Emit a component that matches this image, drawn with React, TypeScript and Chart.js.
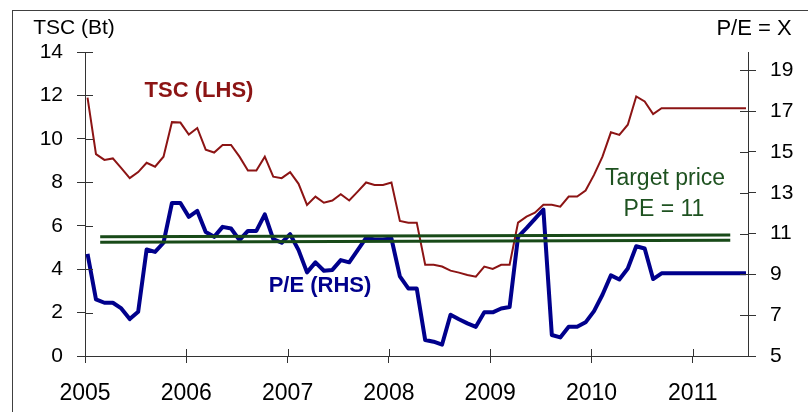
import React, { useEffect, useRef } from 'react';
import { Chart, registerables } from 'chart.js';

Chart.register(...registerables);

// ---- data ----
const START_YEAR = 2005;
const yearTicks = [2005, 2006, 2007, 2008, 2009, 2010, 2011];
const leftTicks = [0, 2, 4, 6, 8, 10, 12, 14];
const rightTicks = [5, 7, 9, 11, 13, 15, 17, 19];

// Monthly TSC share price (Bt), Jan 2005 onward (LHS)
const tscValues = [
  11.9, 9.3, 9.03, 9.1, 8.65, 8.19, 8.47, 8.9, 8.72, 9.18, 10.77, 10.75,
  10.2, 10.5, 9.5, 9.37, 9.72, 9.72, 9.18, 8.54, 8.54, 9.18, 8.26, 8.19,
  8.47, 7.93, 6.96, 7.34, 7.06, 7.16, 7.45, 7.16, 7.57, 7.99, 7.88, 7.88,
  7.99, 6.22, 6.14, 6.14, 4.2, 4.2, 4.12, 3.93, 3.84, 3.73, 3.65, 4.12,
  4.01, 4.2, 4.2, 6.14, 6.42, 6.6, 6.96, 6.96, 6.88, 7.34, 7.34, 7.62,
  8.34, 9.18, 10.3, 10.18, 10.65, 11.95, 11.72, 11.14, 11.41, 11.41, 11.41, 11.41,
  11.41, 11.41, 11.41, 11.41, 11.41, 11.41, 11.41,
];

// Monthly P/E (x), Jan 2005 onward (RHS)
const peValues = [
  10.0, 7.78, 7.61, 7.61, 7.33, 6.81, 7.17, 10.22, 10.1, 10.55, 12.5, 12.5,
  11.82, 12.11, 11.08, 10.84, 11.33, 11.25, 10.68, 11.13, 11.13, 11.94, 10.73, 10.55,
  10.97, 10.19, 9.1, 9.59, 9.18, 9.22, 9.7, 9.59, 10.19, 10.79, 10.71, 10.71,
  10.76, 8.9, 8.31, 8.31, 5.78, 5.7, 5.56, 7.02, 6.8, 6.6, 6.43, 7.14,
  7.14, 7.33, 7.4, 10.84, 11.27, 11.72, 12.18, 6.03, 5.91, 6.43, 6.43, 6.65,
  7.2, 8.0, 8.95, 8.75, 9.29, 10.38, 10.27, 8.77, 9.05, 9.05, 9.05, 9.05,
  9.05, 9.05, 9.05, 9.05, 9.05, 9.05, 9.05,
];

// Target price band (LHS, Bt) at PE = 11
const targetSpan = [2005.15, 2011.37];
const targetUpper = [5.49, 5.57];
const targetLower = [5.24, 5.33];

const X_MIN = 2005;
const X_MAX = 2011.545;

const FONT = '"Liberation Sans", Arial, sans-serif';
const AXIS_COLOR = '#333333';
const RED = '#8C1414';
const BLUE = '#00008C';
const GREEN = '#184A18';
const GREEN_TEXT = '#1E5220';

const monthX = (i: number) => START_YEAR + (i + 0.3) / 12;

const overlayPlugin = {
  id: 'overlay',
  afterDraw(chart: any) {
    const { ctx, chartArea, scales } = chart;
    ctx.save();
    // inward halves of crossing tick marks
    ctx.strokeStyle = AXIS_COLOR;
    ctx.lineWidth = 1;
    ctx.beginPath();
    scales.y.ticks.forEach((t: any) => {
      const py = Math.round(scales.y.getPixelForValue(t.value)) + 0.5;
      ctx.moveTo(chartArea.left, py);
      ctx.lineTo(chartArea.left + 8, py);
    });
    scales.y1.ticks.forEach((t: any) => {
      const py = Math.round(scales.y1.getPixelForValue(t.value)) + 0.5;
      ctx.moveTo(chartArea.right - 8, py);
      ctx.lineTo(chartArea.right, py);
    });
    scales.x.ticks.forEach((t: any) => {
      const px = Math.round(scales.x.getPixelForValue(t.value)) + 0.5;
      ctx.moveTo(px, chartArea.bottom);
      ctx.lineTo(px, chartArea.bottom - 7);
    });
    ctx.stroke();

    // texts
    ctx.textAlign = 'center';
    ctx.textBaseline = 'alphabetic';
    ctx.fillStyle = '#000';
    ctx.font = `21px ${FONT}`;
    ctx.fillText('TSC (Bt)', 74, 34);
    ctx.font = `22px ${FONT}`;
    ctx.fillText('P/E = X', 754, 35);

    ctx.font = `bold 22px ${FONT}`;
    ctx.fillStyle = RED;
    ctx.fillText('TSC (LHS)', 199, 97);
    ctx.fillStyle = BLUE;
    ctx.fillText('P/E (RHS)', 320, 292);

    ctx.font = `23px ${FONT}`;
    ctx.fillStyle = GREEN_TEXT;
    ctx.fillText('Target price', 665, 185);
    ctx.fillText('PE = 11', 664, 216);
    ctx.restore();
  },
};

export default function App() {
  const ref = useRef<HTMLCanvasElement>(null);

  useEffect(() => {
    if (!ref.current) return;
    const chart = new Chart(ref.current, {
      type: 'line',
      data: {
        datasets: [
          {
            label: 'Target upper',
            data: targetSpan.map((x, k) => ({ x, y: targetUpper[k] })),
            yAxisID: 'y',
            borderColor: GREEN,
            borderWidth: 3,
            pointRadius: 0,
            order: 0,
          },
          {
            label: 'Target lower',
            data: targetSpan.map((x, k) => ({ x, y: targetLower[k] })),
            yAxisID: 'y',
            borderColor: GREEN,
            borderWidth: 3,
            pointRadius: 0,
            order: 0,
          },
          {
            label: 'P/E (RHS)',
            data: peValues.map((v, i) => ({ x: monthX(i), y: v })),
            yAxisID: 'y1',
            borderColor: BLUE,
            borderWidth: 4,
            borderJoinStyle: 'round',
            pointRadius: 0,
            tension: 0,
            order: 1,
          },
          {
            label: 'TSC (LHS)',
            data: tscValues.map((v, i) => ({ x: monthX(i), y: v })),
            yAxisID: 'y',
            borderColor: RED,
            borderWidth: 2,
            pointRadius: 0,
            tension: 0,
            order: 2,
          },
        ],
      },
      options: {
        responsive: false,
        animation: false,
        devicePixelRatio: 1,
        layout: { padding: { top: 52, left: 0, right: 0, bottom: 0 } },
        plugins: { legend: { display: false }, tooltip: { enabled: false } },
        scales: {
          x: {
            type: 'linear',
            min: X_MIN,
            max: X_MAX,
            afterBuildTicks: (s: any) => {
              s.ticks = yearTicks.map((v) => ({ value: v }));
            },
            afterFit: (s: any) => {
              s.height = 56;
            },
            grid: {
              display: true,
              drawOnChartArea: false,
              drawTicks: true,
              tickLength: 7,
              color: AXIS_COLOR,
            },
            border: { display: true, color: AXIS_COLOR, width: 1 },
            ticks: {
              color: '#000',
              font: { family: FONT, size: 23 },
              padding: 17,
              maxRotation: 0,
              autoSkip: false,
              callback: (v: any) => String(v),
            },
          },
          y: {
            type: 'linear',
            position: 'left',
            min: 0,
            max: 14,
            afterBuildTicks: (s: any) => {
              s.ticks = leftTicks.map((v) => ({ value: v }));
            },
            afterFit: (s: any) => {
              s.width = 85;
            },
            grid: {
              display: true,
              drawOnChartArea: false,
              drawTicks: true,
              tickLength: 8,
              color: AXIS_COLOR,
            },
            border: { display: true, color: AXIS_COLOR, width: 1 },
            ticks: {
              color: '#000',
              font: { family: FONT, size: 21 },
              padding: 14,
              callback: (v: any) => String(v),
            },
          },
          y1: {
            type: 'linear',
            position: 'right',
            min: 5,
            max: 19.9,
            afterBuildTicks: (s: any) => {
              s.ticks = rightTicks.map((v) => ({ value: v }));
            },
            afterFit: (s: any) => {
              s.width = 60;
            },
            grid: {
              display: true,
              drawOnChartArea: false,
              drawTicks: true,
              tickLength: 8,
              color: AXIS_COLOR,
            },
            border: { display: true, color: AXIS_COLOR, width: 1 },
            ticks: {
              color: '#000',
              font: { family: FONT, size: 21 },
              padding: 14,
              callback: (v: any) => String(v),
            },
          },
        },
      },
      plugins: [overlayPlugin],
    } as any);
    return () => chart.destroy();
  }, []);

  return (
    <div
      style={{
        position: 'fixed',
        left: 0,
        top: 0,
        width: 808,
        height: 412,
        background: '#fff',
        overflow: 'hidden',
      }}
    >
      <div
        style={{
          position: 'absolute',
          left: 12,
          top: 10,
          width: 820,
          height: 420,
          borderLeft: '1px solid #404040',
          borderTop: '1px solid #404040',
        }}
      />
      <canvas
        ref={ref}
        width={808}
        height={412}
        style={{ position: 'absolute', left: 0, top: 0, display: 'block' }}
      />
    </div>
  );
}
